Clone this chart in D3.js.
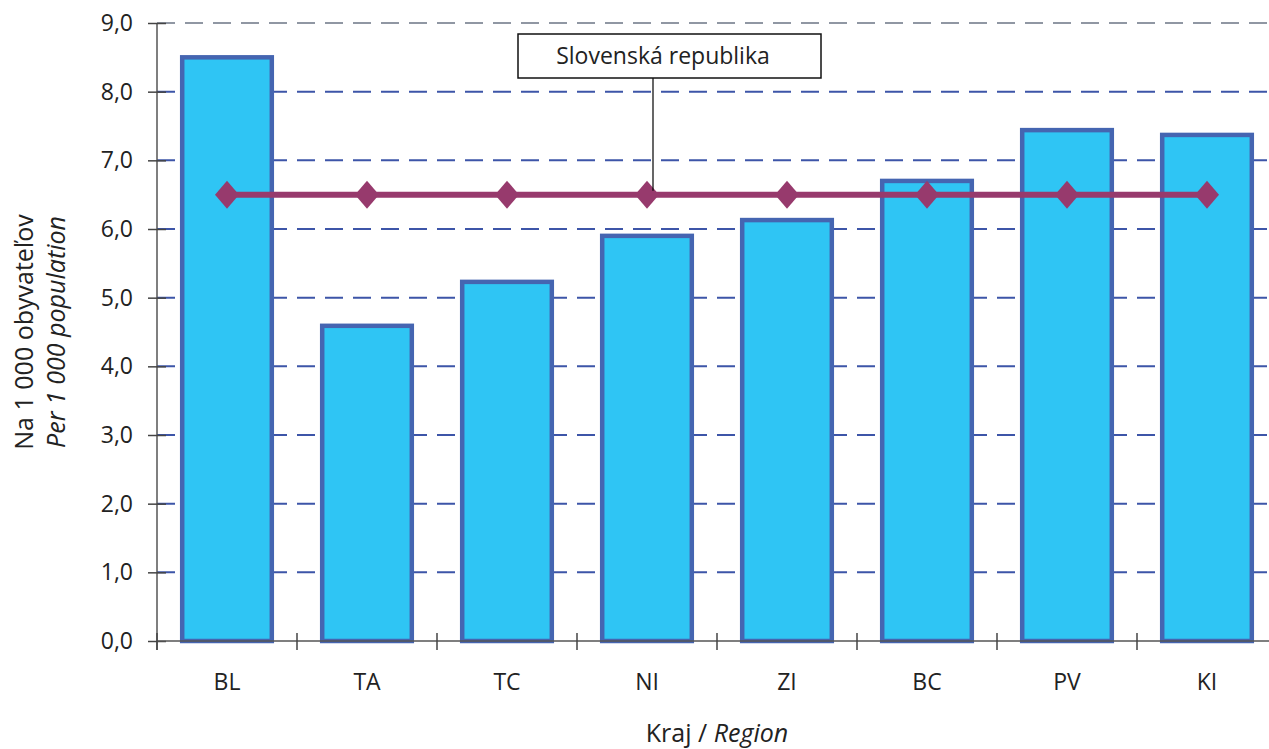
<!DOCTYPE html>
<html><head><meta charset="utf-8">
<script src="https://cdn.jsdelivr.net/npm/d3@7"></script>
<style>body{margin:0;background:#fff}svg{display:block}text{font-family:"Open Sans",sans-serif}</style>
</head><body><svg id="c" width="1269" height="749"></svg>
<script>
const categories = ["BL","TA","TC","NI","ZI","BC","PV","KI"];
const regionValues = [8.5, 4.59, 5.23, 5.9, 6.13, 6.7, 7.44, 7.37];
const slovakiaValues = [6.5, 6.5, 6.5, 6.5, 6.5, 6.5, 6.5, 6.5];
const yTicks = [0,1,2,3,4,5,6,7,8,9];
const legendLabel = "Slovenská republika";

(function () {
const svg = d3.select("#c");
const pL = 157, pR = 1277, pT = 23, pB = 641;
const x = d3.scaleBand().domain(categories).range([pL, pR]).paddingInner(0.36).paddingOuter(0.18);
const xb = d3.scaleBand().domain(categories).range([pL, pR]);
const y = d3.scaleLinear().domain([0, 9]).range([pB, pT]);
const fmt = d => d3.format(".1f")(d).replace(".", ",");

// gridlines
svg.append("g").selectAll("line").data(yTicks.filter(t => t > 0)).join("line")
  .attr("x1", pL).attr("x2", 1269)
  .attr("y1", d => y(d)).attr("y2", d => y(d))
  .attr("stroke", d => d === 9 ? "#9097a3" : "#3d55a8")
  .attr("stroke-width", 2).attr("stroke-dasharray", "18,10");

// bars
svg.append("g").selectAll("rect").data(categories).join("rect")
  .attr("x", d => x(d)).attr("width", x.bandwidth())
  .attr("y", (d, i) => y(regionValues[i]))
  .attr("height", (d, i) => pB - y(regionValues[i]))
  .attr("fill", "#2fc5f4").attr("stroke", "#4565b1").attr("stroke-width", 4.5);

// axes
const ya = svg.append("g").attr("transform", `translate(${pL},0)`)
  .call(d3.axisLeft(y).tickValues(yTicks).tickFormat(fmt).tickSize(9).tickPadding(15));
ya.select(".domain").attr("stroke", "#555").attr("stroke-width", 1.5).attr("d", `M0,${pT}V${pB + 9}`);
ya.selectAll(".tick line").attr("stroke", "#444").attr("stroke-width", 1.5).attr("x2", -9).attr("x1", 9);
ya.selectAll(".tick text").attr("font-size", 23).attr("fill", "#222");

const xa = svg.append("g").attr("transform", `translate(0,${pB})`)
  .call(d3.axisBottom(xb).tickSize(0).tickPadding(33));
xa.select(".domain").attr("stroke", "#555").attr("stroke-width", 1.5).attr("d", `M${pL},0H1269`);
xa.selectAll(".tick text").attr("font-size", 23).attr("fill", "#222");
svg.append("g").selectAll("line").data(categories).join("line")
  .attr("x1", d => xb(d)).attr("x2", d => xb(d))
  .attr("y1", pB - 8).attr("y2", pB + 9)
  .attr("stroke", "#444").attr("stroke-width", 1.5);

// line series
const cx = d => x(d) + x.bandwidth() / 2;
svg.append("path").datum(categories)
  .attr("d", d3.line().x(d => cx(d)).y((d, i) => y(slovakiaValues[i])))
  .attr("fill", "none").attr("stroke", "#973a6d").attr("stroke-width", 6);
svg.append("g").selectAll("path").data(categories).join("path")
  .attr("transform", (d, i) => `translate(${cx(d)},${y(slovakiaValues[i])})`)
  .attr("d", "M0,-14L12,0L0,14L-12,0Z").attr("fill", "#973a6d");

// legend callout
const lx = cx("NI") + 6;
svg.append("line").attr("x1", lx).attr("x2", lx).attr("y1", 78).attr("y2", y(slovakiaValues[3]) - 4)
  .attr("stroke", "#000").attr("stroke-width", 1.2);
svg.append("rect").attr("x", 518).attr("y", 34).attr("width", 303).attr("height", 44)
  .attr("fill", "#fff").attr("stroke", "#111").attr("stroke-width", 1.5);
svg.append("text").attr("x", 663).attr("y", 64).attr("text-anchor", "middle")
  .attr("font-size", 23).attr("fill", "#222").text(legendLabel);

// axis titles
const xt = svg.append("text").attr("x", 717).attr("y", 742).attr("text-anchor", "middle")
  .attr("font-size", 25).attr("fill", "#222");
xt.append("tspan").text("Kraj / ");
xt.append("tspan").attr("font-style", "italic").text("Region");

const yt = svg.append("text").attr("transform", "translate(0,332) rotate(-90)")
  .attr("text-anchor", "middle").attr("font-size", 25).attr("fill", "#222");
yt.append("tspan").attr("x", 0).attr("y", 33).text("Na 1 000 obyvateľov");
yt.append("tspan").attr("x", 0).attr("y", 65).attr("font-style", "italic").text("Per 1 000 population");
})();
</script></body></html>
